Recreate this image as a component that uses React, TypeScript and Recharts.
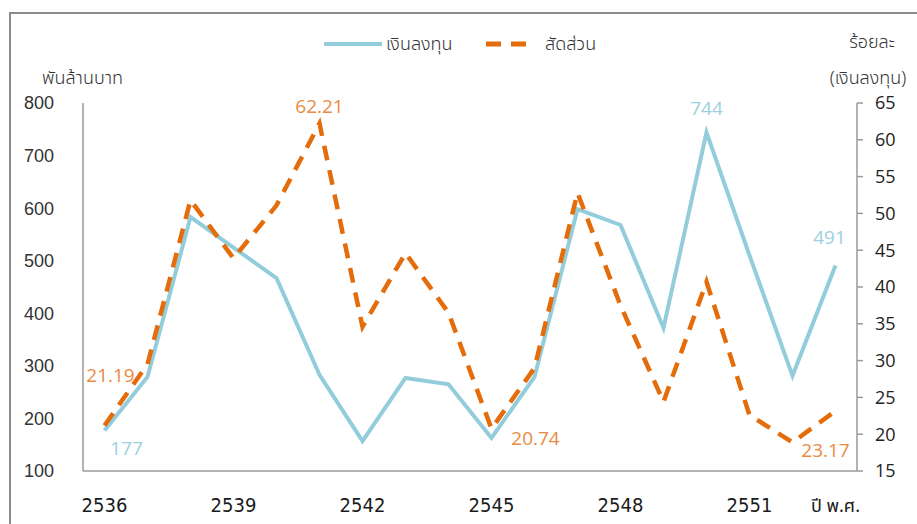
import React from "react";
import { LineChart, Line, XAxis, YAxis, LabelList } from "recharts";

const years = [
  "2536", "2537", "2538", "2539", "2540", "2541", "2542", "2543", "2544",
  "2545", "2546", "2547", "2548", "2549", "2550", "2551", "2552", "2553",
];
// พันล้านบาท
const investment = [177, 279, 583, 525, 467, 283, 157, 277, 265, 163, 279, 598, 568, 372, 744, 510, 281, 491];
// ร้อยละ
const share = [21.19, 29.5, 51.8, 43.9, 51.1, 62.21, 34.6, 44.6, 36.5, 20.74, 29.0, 52.8, 37.5, 24.4, 40.7, 22.6, 18.9, 23.17];

const leftTicks = [100, 200, 300, 400, 500, 600, 700, 800];
const rightTicks = [15, 20, 25, 30, 35, 40, 45, 50, 55, 60, 65];
const axisUnitLabel = "ปี พ.ศ.";

const data = years.map((y, i) => ({ year: y, investment: investment[i], share: share[i] }));

const BLUE = "#93CDDC";
const BLUE_TEXT = "#9DD0DF";
const ORANGE = "#E46C0A";
const ORANGE_TEXT = "#E98A3E";
const THAI = "'Noto Sans Thai', 'Noto Sans', 'DejaVu Sans', sans-serif";

// which points get a value label, and where it sits relative to the point
const blueLabels: Record<number, [number, number]> = { 0: [22, 17], 14: [0, -24], 17: [-6, -28] };
const orangeLabels: Record<number, [number, number]> = { 0: [6, -50], 5: [0, -18], 9: [44, 9], 17: [-10, 39] };

function makeLabel(where: Record<number, [number, number]>, color: string) {
  return (props: any) => {
    const { x, y, index, value } = props;
    const off = where[index];
    if (!off) return null;
    return (
      <text
        x={x + off[0]}
        y={y + off[1]}
        textAnchor="middle"
        dominantBaseline="central"
        fill={color}
        fontSize={19}
        fontFamily="'Open Sans', sans-serif"
      >
        {value}
      </text>
    );
  };
}

function YearTick(props: any) {
  const { x, y, payload, index } = props;
  const last = index === years.length - 1;
  if (!last && index % 3 !== 0) return null;
  return (
    <text
      x={x}
      y={y}
      dy={14}
      textAnchor="middle"
      fill="#1a1a1a"
      fontSize={last ? 18 : 20}
      fontFamily={last ? THAI : "'DejaVu Sans Condensed', 'DejaVu Sans', sans-serif"}
    >
      {last ? axisUnitLabel : payload.value}
    </text>
  );
}

function LegendBox() {
  return (
    <svg width={320} height={30} style={{ position: "absolute", left: 320, top: 29 }}>
      <line x1={4} y1={15} x2={62} y2={15} stroke={BLUE} strokeWidth={4} />
      <text x={66} y={15} dominantBaseline="central" fontSize={18} fill="#333" fontFamily={THAI} fontWeight={300}>
        เงินลงทุน
      </text>
      <line x1={166} y1={15} x2={212} y2={15} stroke={ORANGE} strokeWidth={5} strokeDasharray="15 10" />
      <text x={225} y={15} dominantBaseline="central" fontSize={18} fill="#333" fontFamily={THAI} fontWeight={300}>
        สัดส่วน
      </text>
    </svg>
  );
}

export default function App() {
  return (
    <div style={{ position: "absolute", left: 0, top: 0, width: 917, height: 524, overflow: "hidden", background: "#fff" }}>
      <div
        style={{
          position: "absolute",
          left: 9,
          top: 12,
          width: 1000,
          height: 600,
          border: "2px solid #8c8c8c",
        }}
      />
      <div style={{ position: "absolute", left: 0, top: 0 }}>
        <LineChart width={917} height={524} data={data} margin={{ top: 103, right: 0, bottom: 0, left: 0 }}>
          <XAxis
            dataKey="year"
            interval={0}
            tick={<YearTick />}
            tickLine={false}
            tickSize={0}
            tickMargin={27}
            height={53}
            padding={{ left: 21.5, right: 21.5 }}
            axisLine={{ stroke: "#9a9a9a", strokeWidth: 1.5 }}
          />
          <YAxis
            yAxisId="left"
            domain={[100, 800]}
            ticks={leftTicks}
            width={83}
            tickLine={false}
            tickSize={0}
            tickMargin={29}
            axisLine={{ stroke: "#9a9a9a", strokeWidth: 1.5 }}
            tick={{ fill: "#333", fontSize: 18, fontFamily: "'Liberation Sans', Arial, sans-serif" }}
          />
          <YAxis
            yAxisId="right"
            orientation="right"
            domain={[15, 65]}
            ticks={rightTicks}
            width={60}
            tickSize={6}
            tickMargin={12}
            tickLine={{ stroke: "#9a9a9a", strokeWidth: 1.5 }}
            axisLine={{ stroke: "#9a9a9a", strokeWidth: 1.5 }}
            tick={{ fill: "#222", fontSize: 18, fontFamily: "'Open Sans', sans-serif", textAnchor: "start" }}
          />
          <Line
            yAxisId="left"
            dataKey="investment"
            stroke={BLUE}
            strokeWidth={4}
            dot={false}
            activeDot={false}
            isAnimationActive={false}
          >
            <LabelList dataKey="investment" content={makeLabel(blueLabels, BLUE_TEXT)} />
          </Line>
          <Line
            yAxisId="right"
            dataKey="share"
            stroke={ORANGE}
            strokeWidth={4.5}
            strokeDasharray="15 10"
            dot={false}
            activeDot={false}
            isAnimationActive={false}
          >
            <LabelList dataKey="share" content={makeLabel(orangeLabels, ORANGE_TEXT)} />
          </Line>
          <text x={42} y={78} dominantBaseline="central" fontSize={18} fill="#333" fontFamily={THAI} fontWeight={300}>
            พันล้านบาท
          </text>
          <text x={872} y={42} textAnchor="middle" dominantBaseline="central" fontSize={18} fill="#333" fontFamily={THAI} fontWeight={300}>
            ร้อยละ
          </text>
          <text x={868} y={78} textAnchor="middle" dominantBaseline="central" fontSize={18} fill="#333" fontFamily={THAI} fontWeight={300}>
            (เงินลงทุน)
          </text>
        </LineChart>
      </div>
      <LegendBox />
    </div>
  );
}
